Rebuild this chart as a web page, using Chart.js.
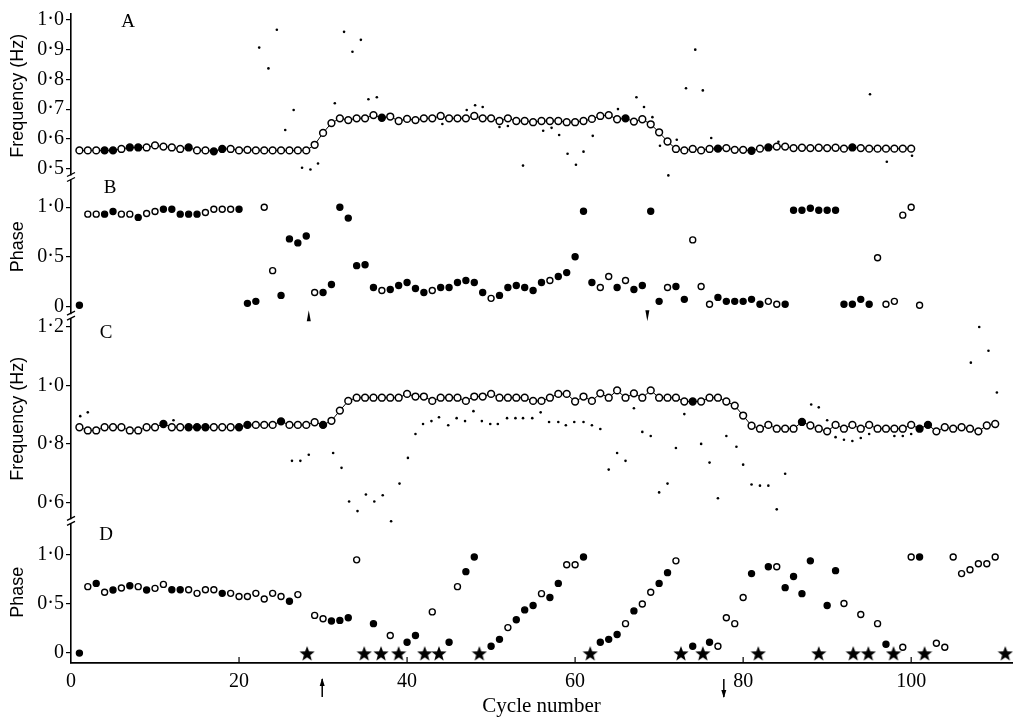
<!DOCTYPE html>
<html>
<head>
<meta charset="utf-8">
<script src="https://cdn.jsdelivr.net/npm/chart.js@4/dist/chart.umd.min.js"></script>
<style>
    html, body { margin: 0; padding: 0; background: #fff; }
</style>
</head>
<body>
<canvas id="graph" width="1019" height="721"></canvas>
<script>
// A: frequency of the main trace, cycles 1..100
const freqA = [
    0.561, 0.561, 0.561, 0.561, 0.561, 0.566, 0.571, 0.571, 0.571, 0.578,
    0.574, 0.571, 0.566, 0.571, 0.561, 0.561, 0.558, 0.566, 0.566, 0.561,
    0.563, 0.561, 0.561, 0.561, 0.561, 0.561, 0.561, 0.561, 0.58, 0.62,
    0.653, 0.669, 0.663, 0.669, 0.669, 0.68, 0.671, 0.675, 0.66, 0.667,
    0.663, 0.669, 0.669, 0.677, 0.669, 0.669, 0.669, 0.677, 0.669, 0.669,
    0.66, 0.669, 0.66, 0.66, 0.656, 0.66, 0.66, 0.66, 0.656, 0.656,
    0.66, 0.667, 0.677, 0.68, 0.666, 0.669, 0.658, 0.666, 0.649, 0.622,
    0.591, 0.566, 0.561, 0.566, 0.561, 0.566, 0.567, 0.569, 0.563, 0.563,
    0.56, 0.567, 0.571, 0.574, 0.574, 0.569, 0.57, 0.569, 0.57, 0.569,
    0.57, 0.567, 0.571, 0.569, 0.567, 0.567, 0.567, 0.567, 0.567, 0.567,
]
const freqAFilled = [4, 5, 7, 8, 14, 17, 18, 37, 66, 77, 81, 83, 93]
const freqADotCycles = [
    22.4, 23.5, 24.5, 25.5, 26.5, 27.5, 28.5, 29.4, 31.4, 32.5, 33.5, 34.5,
    35.4, 36.4, 44.2, 47.1, 48.1, 49, 51, 52, 53.8, 56.2, 57.2, 58.1, 59.1,
    60.1, 61, 62.1, 65.1, 67.3, 68.2, 69.2, 70.1, 71.1, 72.1, 73.2, 74.3,
    75.2, 76.2, 84.2, 95.1, 97.1, 100.1,
]
const freqADotValues = [
    0.907, 0.837, 0.967, 0.63, 0.697, 0.503, 0.497, 0.517, 0.72, 0.96, 0.893, 0.933,
    0.733, 0.74, 0.65, 0.697, 0.713, 0.707, 0.64, 0.643, 0.51, 0.627, 0.637, 0.613, 0.55,
    0.513, 0.557, 0.61, 0.7, 0.74, 0.707, 0.673, 0.577, 0.477, 0.597, 0.77, 0.9,
    0.763, 0.603, 0.59, 0.75, 0.523, 0.543,
]

// B: phase, cycles 1..101
const phaseB = [
    0.01, 0.93, 0.93, 0.93, 0.957, 0.93, 0.93, 0.897, 0.937, 0.957,
    0.98, 0.98, 0.93, 0.93, 0.93, 0.947, 0.98, 0.98, 0.98, 0.98,
    0.03, 0.05, 1.0, 0.36, 0.11, 0.68, 0.64, 0.71, 0.14, 0.14,
    0.22, 1.0, 0.89, 0.41, 0.42, 0.19, 0.16, 0.17, 0.21, 0.24,
    0.18, 0.14, 0.16, 0.19, 0.19, 0.24, 0.26, 0.24, 0.14, 0.08,
    0.11, 0.19, 0.21, 0.19, 0.16, 0.24, 0.26, 0.3, 0.34, 0.5,
    0.96, 0.24, 0.19, 0.3, 0.19, 0.26, 0.17, 0.21, 0.96, 0.05,
    0.19, 0.2, 0.07, 0.67, 0.2, 0.02, 0.09, 0.05, 0.05, 0.05,
    0.07, 0.02, 0.05, 0.02, 0.02, 0.97, 0.97, 0.99, 0.97, 0.97,
    0.97, 0.02, 0.02, 0.07, 0.02, 0.49, 0.02, 0.05, 0.92, 1.0,
    0.01,
]
const phaseBOpen = [
    2, 3, 6, 7, 9, 10, 16, 17, 18, 19, 23, 24, 29, 37, 43, 50, 57, 63, 64,
    66, 71, 74, 75, 76, 83, 84, 96, 97, 98, 99, 100, 101,
]
const phaseBMarksUp = [28.3]
const phaseBMarksDown = [68.6]

// C: frequency of the main trace, cycles 1..110
const freqC = [
    0.857, 0.846, 0.846, 0.857, 0.857, 0.857, 0.846, 0.846, 0.857, 0.857,
    0.868, 0.857, 0.857, 0.857, 0.857, 0.857, 0.857, 0.857, 0.857, 0.857,
    0.865, 0.865, 0.865, 0.865, 0.877, 0.865, 0.865, 0.865, 0.874, 0.865,
    0.879, 0.914, 0.947, 0.958, 0.958, 0.958, 0.958, 0.958, 0.958, 0.971,
    0.962, 0.962, 0.947, 0.958, 0.958, 0.958, 0.947, 0.962, 0.962, 0.971,
    0.958, 0.958, 0.958, 0.958, 0.947, 0.947, 0.958, 0.971, 0.971, 0.945,
    0.962, 0.947, 0.973, 0.958, 0.983, 0.958, 0.973, 0.958, 0.983, 0.958,
    0.958, 0.958, 0.945, 0.945, 0.945, 0.958, 0.958, 0.945, 0.931, 0.897,
    0.862, 0.852, 0.865, 0.852, 0.852, 0.852, 0.875, 0.863, 0.852, 0.843,
    0.865, 0.852, 0.865, 0.852, 0.865, 0.852, 0.852, 0.852, 0.852, 0.865,
    0.852, 0.865, 0.843, 0.857, 0.852, 0.857, 0.852, 0.843, 0.863, 0.868,
]
const freqCFilled = [11, 14, 15, 16, 20, 21, 25, 30, 74, 87, 101, 102]
const freqCDotCycles = [
    1.1, 2, 12.2, 26.3, 27.3, 28.3, 31.2, 32.2, 33.1, 34.1, 35.1, 36.1, 37.1,
    38.1, 39.1, 40.1, 41, 41.9, 42.9, 43.8, 44.9, 45.9, 46.9, 47.9, 48.9, 49.9,
    50.8, 51.9, 52.9, 53.8, 54.9, 55.9, 56.9, 58, 58.9, 59.9, 61, 62, 63, 64,
    65, 66, 67, 68, 69, 70, 71, 72, 73, 75, 76, 77, 78, 79.2, 80, 81, 82, 83,
    84, 85, 88.1, 89, 90, 91, 92, 93, 94, 95, 98, 99, 100, 101, 107.1, 108.1,
    109.2, 110.2,
]
const freqCDotValues = [
    0.895, 0.908, 0.881, 0.742, 0.742, 0.763, 0.769, 0.718, 0.603, 0.57, 0.627, 0.603, 0.624,
    0.535, 0.664, 0.752, 0.834, 0.868, 0.878, 0.891, 0.864, 0.888, 0.878, 0.912, 0.878, 0.868,
    0.868, 0.888, 0.888, 0.888, 0.888, 0.908, 0.875, 0.875, 0.864, 0.875, 0.875, 0.864, 0.851, 0.712,
    0.769, 0.742, 0.922, 0.841, 0.827, 0.634, 0.664, 0.786, 0.902, 0.8, 0.736, 0.614, 0.827, 0.79, 0.729, 0.661, 0.657, 0.657,
    0.576, 0.698, 0.935, 0.925, 0.881, 0.823, 0.814, 0.81, 0.82, 0.834, 0.827, 0.827, 0.834, 0.854, 1.078, 1.2,
    1.119, 0.976,
]

// D: phase, cycles 1..110 (null where a star stands instead)
const phaseD = [
    0, 0.677, 0.71, 0.62, 0.643, 0.663, 0.687, 0.677, 0.643, 0.66,
    0.7, 0.646, 0.646, 0.646, 0.609, 0.646, 0.646, 0.609, 0.609, 0.576,
    0.576, 0.609, 0.552, 0.609, 0.576, 0.528, 0.596, null, 0.384, 0.35,
    0.327, 0.333, 0.36, 0.95, null, 0.3, null, 0.18, null, 0.11,
    0.18, null, 0.42, null, 0.11, 0.677, 0.83, 0.98, null, 0.07,
    0.14, 0.26, 0.34, 0.44, 0.485, 0.606, 0.566, 0.71, 0.9, 0.9,
    0.98, null, 0.11, 0.14, 0.19, 0.3, 0.43, 0.5, 0.62, 0.71,
    0.82, 0.94, null, 0.07, null, 0.11, 0.07, 0.36, 0.3, 0.566,
    0.81, null, 0.88, 0.88, 0.667, 0.78, 0.606, 0.94, null, 0.485,
    0.84, 0.505, null, 0.394, null, 0.3, 0.09, null, 0.06, 0.98,
    0.98, null, 0.1, 0.06, 0.98, 0.81, 0.85, 0.91, 0.91, 0.98,
]
const phaseDFilled = [
    1, 3, 5, 7, 9, 12, 13, 18, 26, 31, 32, 33, 36, 40, 41, 45, 47, 48, 50, 51,
    53, 54, 55, 57, 58, 61, 63, 64, 65, 67, 70, 71, 74, 76, 81, 83, 85, 86, 87,
    88, 90, 91, 97, 101,
]
const starCycles = [
    28.1, 34.9, 36.9, 39.0, 42.1, 43.8, 48.6, 61.8, 72.6, 75.2, 81.8, 89.0,
    93.1, 94.9, 97.9, 101.6, 111.2,
]
const arrowUpCycles = [29.9]
const arrowDownCycles = [77.7]

// ticks
const xTicks = [0, 20, 40, 60, 80, 100]
const freqATicks = [0.5, 0.6, 0.7, 0.8, 0.9, 1.0]
const phaseTicks = [0, 0.5, 1.0]
const freqCTicks = [0.6, 0.8, 1.0, 1.2]
const panelLetters = ["A", "B", "C", "D"]

const serif = "'Liberation Serif', 'DejaVu Serif', serif"
const sans = "'Liberation Sans', Arial, sans-serif"

const seq = (values) =>
    values.map((v, i) => ({ x: i + 1, y: v })).filter((p) => p.y !== null)
const pairs = (xs, ys) => xs.map((x, i) => ({ x, y: ys[i] }))

const makeStar = (size) => {
    const c = document.createElement("canvas")
    c.width = size
    c.height = size
    const g = c.getContext("2d")
    const r = size / 2
    g.beginPath()
    for (let i = 0; i < 10; i++) {
        const a = -Math.PI / 2 + (i * Math.PI) / 5
        const rr = i % 2 === 0 ? r : r * 0.42
        g.lineTo(r + rr * Math.cos(a), r + 1 + rr * Math.sin(a))
    }
    g.closePath()
    g.fillStyle = "#000"
    g.fill()
    return c
}
const star = makeStar(16)

const fmt = (v) => (v === 0 ? "0" : v.toFixed(1).replace(".", "\u00b7"))

const yScale = (min, max, ticks, title, weight, stackWeight) => ({
    type: "linear",
    position: "left",
    stack: "panels",
    stackWeight,
    weight,
    min,
    max,
    afterBuildTicks: (s) => {
        s.ticks = ticks.map((v) => ({ value: v }))
    },
    afterFit: (s) => {
        s.width = 71
    },
    border: { color: "#000", width: 1.6 },
    grid: { drawOnChartArea: false, color: "#000", lineWidth: 1.2, tickLength: 5 },
    ticks: {
        color: "#000",
        autoSkip: false,
        padding: 2,
        font: { family: serif, size: 20 },
        callback: fmt,
    },
    title: {
        display: true,
        text: title,
        color: "#000",
        font: { family: sans, size: 18 },
        padding: { top: 7, bottom: 0 },
    },
})

const openOrFilled = (filledTest) => (ctx) => (filledTest(ctx.raw.x) ? "#000" : "#fff")

const decor = {
    id: "decor",
    afterDraw(chart) {
        const ctx = chart.ctx
        const x = chart.scales.x
        const area = chart.chartArea
        const panels = ["yA", "yB", "yC", "yD"].map((id) => chart.scales[id])
        ctx.save()
        ctx.fillStyle = "#000"
        ctx.strokeStyle = "#000"

        // panel letters
        const letterOffsets = [[57, 8], [39, 11], [35, 17], [35, 14]]
        ctx.font = "19px " + serif
        ctx.textAlign = "center"
        ctx.textBaseline = "middle"
        panelLetters.forEach((t, i) => {
            ctx.fillText(t, area.left + letterOffsets[i][0], panels[i].top + letterOffsets[i][1])
        })

        // inward ticks on the cycle axis
        ctx.lineWidth = 1.2
        for (const v of xTicks.slice(1)) {
            const px = x.getPixelForValue(v)
            ctx.beginPath()
            ctx.moveTo(px, area.bottom)
            ctx.lineTo(px, area.bottom - 6)
            ctx.stroke()
        }

        // arrows under the axis
        const arrow = (c, up) => {
            const px = x.getPixelForValue(c)
            const y0 = area.bottom + 16
            const y1 = area.bottom + 34
            ctx.lineWidth = 1.5
            ctx.beginPath()
            ctx.moveTo(px, y0)
            ctx.lineTo(px, y1)
            ctx.stroke()
            const tip = up ? y0 - 1 : y1 + 1
            const base = up ? tip + 8 : tip - 8
            ctx.beginPath()
            ctx.moveTo(px, tip)
            ctx.lineTo(px - 2.5, base)
            ctx.lineTo(px + 2.5, base)
            ctx.closePath()
            ctx.fill()
        }
        arrowUpCycles.forEach((c) => arrow(c, true))
        arrowDownCycles.forEach((c) => arrow(c, false))

        // small marks at the foot of panel B
        const yB = panels[1]
        const mark = (c, up) => {
            const px = x.getPixelForValue(c)
            const yTop = yB.bottom - 6
            const yBot = yB.bottom + 5
            ctx.beginPath()
            if (up) {
                ctx.moveTo(px, yTop)
                ctx.lineTo(px - 2, yBot)
                ctx.lineTo(px + 2, yBot)
            } else {
                ctx.moveTo(px, yBot)
                ctx.lineTo(px - 2, yTop)
                ctx.lineTo(px + 2, yTop)
            }
            ctx.closePath()
            ctx.fill()
        }
        phaseBMarksUp.forEach((c) => mark(c, true))
        phaseBMarksDown.forEach((c) => mark(c, false))

        // breaks in the y axis between panels
        ctx.lineWidth = 1.3
        for (const s of panels.slice(0, 3)) {
            const by = s.bottom
            const bx = area.left
            ctx.fillStyle = "#fff"
            ctx.fillRect(bx - 3, by - 2, 6, 4)
            ctx.beginPath()
            ctx.moveTo(bx - 4, by - 1)
            ctx.lineTo(bx + 4, by - 5)
            ctx.moveTo(bx - 4, by + 4)
            ctx.lineTo(bx + 4, by)
            ctx.stroke()
        }
        ctx.restore()
    },
}

const datasets = [
    {
        data: seq(freqA),
        yAxisID: "yA",
        showLine: true,
        borderColor: "#000",
        borderWidth: 1,
        pointRadius: 3.4,
        pointBorderWidth: 1.5,
        pointBorderColor: "#000",
        pointBackgroundColor: openOrFilled((c) => freqAFilled.includes(c)),
    },
    {
        data: seq(freqC),
        yAxisID: "yC",
        showLine: true,
        borderColor: "#000",
        borderWidth: 1,
        pointRadius: 3.4,
        pointBorderWidth: 1.5,
        pointBorderColor: "#000",
        pointBackgroundColor: openOrFilled((c) => freqCFilled.includes(c)),
    },
    {
        data: seq(phaseB),
        yAxisID: "yB",
        pointRadius: 3,
        pointBorderWidth: 1.4,
        pointBorderColor: "#000",
        pointBackgroundColor: openOrFilled((c) => !phaseBOpen.includes(c)),
    },
    {
        data: seq(phaseD),
        yAxisID: "yD",
        pointRadius: 3,
        pointBorderWidth: 1.4,
        pointBorderColor: "#000",
        pointBackgroundColor: openOrFilled((c) => phaseDFilled.includes(c)),
    },
    {
        data: starCycles.map((c) => ({ x: c, y: 0 })),
        yAxisID: "yD",
        pointStyle: star,
    },
    {
        data: pairs(freqADotCycles, freqADotValues),
        yAxisID: "yA",
        pointRadius: 1.3,
        pointBorderWidth: 0,
        pointBackgroundColor: "#000",
    },
    {
        data: pairs(freqCDotCycles, freqCDotValues),
        yAxisID: "yC",
        pointRadius: 1.3,
        pointBorderWidth: 0,
        pointBackgroundColor: "#000",
    },
].map((d) => ({ clip: false, ...d }))

const chart = new Chart(document.getElementById("graph"), {
    type: "scatter",
    data: { datasets },
    options: {
        responsive: false,
        animation: false,
        layout: { padding: { top: 8, left: 0, right: 7, bottom: 0 } },
        plugins: {
            legend: { display: false },
            tooltip: { enabled: false },
        },
        scales: {
            x: {
                type: "linear",
                position: "bottom",
                min: 0,
                max: 112,
                afterBuildTicks: (s) => {
                    s.ticks = xTicks.map((v) => ({ value: v }))
                },
                afterFit: (s) => {
                    s.height = 58
                },
                border: { color: "#000", width: 1.8 },
                grid: { display: false, drawTicks: false },
                ticks: {
                    color: "#000",
                    autoSkip: false,
                    maxRotation: 0,
                    padding: 7,
                    font: { family: serif, size: 20 },
                    callback: (v) => String(v),
                },
                title: {
                    display: true,
                    text: "Cycle number",
                    color: "#000",
                    font: { family: serif, size: 21 },
                    padding: { top: 0, bottom: 2 },
                },
            },
            yA: yScale(0.47, 1.02, freqATicks, "Frequency (Hz)", 4, 165),
            yB: yScale(-0.1, 1.3, phaseTicks, "Phase", 3, 140),
            yC: yScale(0.535, 1.237, freqCTicks, "Frequency (Hz)", 2, 207),
            yD: yScale(-0.101, 1.343, phaseTicks, "Phase", 1, 143),
        },
    },
    plugins: [decor],
})
</script>
</body>
</html>
